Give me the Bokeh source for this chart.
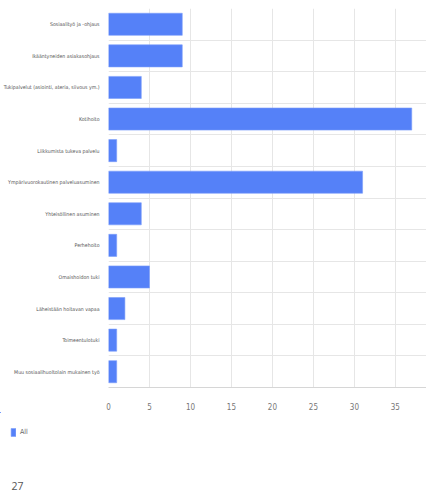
from bokeh.plotting import figure
from bokeh.layouts import column
from bokeh.models import Range1d, FixedTicker, Legend, LegendItem, Label, ColumnDataSource
from bokeh.embed import file_html
from bokeh.resources import INLINE

categories = [
    "Sosiaalityö ja -ohjaus",
    "Ikääntyneiden asiakasohjaus",
    "Tukipalvelut (asiointi, ateria, siivous ym.)",
    "Kotihoito",
    "Liikkumista tukeva palvelu",
    "Ympärivuorokautinen palveluasuminen",
    "Yhteisöllinen asuminen",
    "Perhehoito",
    "Omaishoidon tuki",
    "Läheistään hoitavan vapaa",
    "Toimeentulotuki",
    "Muu sosiaalihuoltolain mukainen työ",
]
values = [9, 9, 4, 37, 1, 31, 4, 1, 5, 2, 1, 1]
series_name = "All"
x_ticks = [0, 5, 10, 15, 20, 25, 30, 35, 40]
page_number = "27"

n = len(categories)
pos = list(range(n))
src = ColumnDataSource(dict(y=pos, v=values, cat=categories))

LABEL_FONT = "'DejaVu Sans Condensed', 'Liberation Sans Narrow', 'Roboto Condensed', Roboto, sans-serif"
BLUE = "#5581F8"
EDGE = "#7C9EFA"
FL = 100

p = figure(width=426, height=412, output_backend="svg", toolbar_location=None,
           x_range=Range1d(0, 38.8), y_range=Range1d(n - 0.5, -0.5),
           min_border_left=FL, min_border_right=0, min_border_top=8,
           min_border_bottom=24, frame_align=False)
p.outline_line_color = None

r = p.hbar(y="y", right="v", left=0, height=0.7, source=src,
           fill_color=BLUE, line_color=EDGE, line_width=0.6)

p.yaxis.ticker = FixedTicker(ticks=pos)
p.yaxis.major_label_overrides = {i: c for i, c in zip(pos, categories)}
p.yaxis.axis_line_color = None
p.yaxis.major_tick_line_color = None
p.yaxis.minor_tick_line_color = None
p.yaxis.major_label_text_font = LABEL_FONT
p.yaxis.major_label_text_font_size = "5.2px"
p.yaxis.major_label_text_color = "#555555"
p.yaxis.major_label_standoff = 3

p.xaxis.ticker = FixedTicker(ticks=x_ticks)
p.xaxis.axis_line_color = "#d6d6d6"
p.xaxis.major_tick_line_color = None
p.xaxis.minor_tick_line_color = None
p.xaxis.major_label_text_font = LABEL_FONT
p.xaxis.major_label_text_font_size = "8px"
p.xaxis.major_label_text_color = "#777777"
p.xaxis.major_label_standoff = 9

p.xgrid.ticker = FixedTicker(ticks=x_ticks)
p.xgrid.grid_line_color = "#e6e6e6"
p.ygrid.ticker = FixedTicker(ticks=[i - 0.5 for i in range(n + 1)])
p.ygrid.grid_line_color = "#e6e6e6"

# footer: legend + page number (dummy renderer kept far out of view)
p2 = figure(width=426, height=81, output_backend="svg", toolbar_location=None,
            x_range=Range1d(1000, 1426), y_range=Range1d(-1000, -919),
            x_axis_location=None, y_axis_location=None,
            min_border_left=0, min_border_right=0, min_border_top=0,
            min_border_bottom=0, frame_align=False)
p2.grid.visible = False
p2.outline_line_color = None
r2 = p2.hbar(y="y", right="v", left=0, height=0.7, source=src,
             fill_color=BLUE, line_color=EDGE, line_width=0.6)
legend = Legend(items=[LegendItem(label=series_name, renderers=[r2])],
                location=(10, 56), orientation="horizontal",
                border_line_color=None, background_fill_alpha=0,
                padding=0, margin=0, spacing=0,
                glyph_width=6, glyph_height=10, label_height=10,
                label_standoff=4, label_text_font=LABEL_FONT,
                label_text_font_size="7px", label_text_color="#666666")
p2.add_layout(legend, "center")
p2.add_layout(Label(x=11, y=8, x_units="screen", y_units="screen", text=page_number,
                    text_font="Open Sans", text_font_size="10.5px",
                    text_color="#555555", text_baseline="alphabetic"))

layout = column(p, p2, spacing=0)
open("out.html", "w").write(file_html(layout, INLINE))
